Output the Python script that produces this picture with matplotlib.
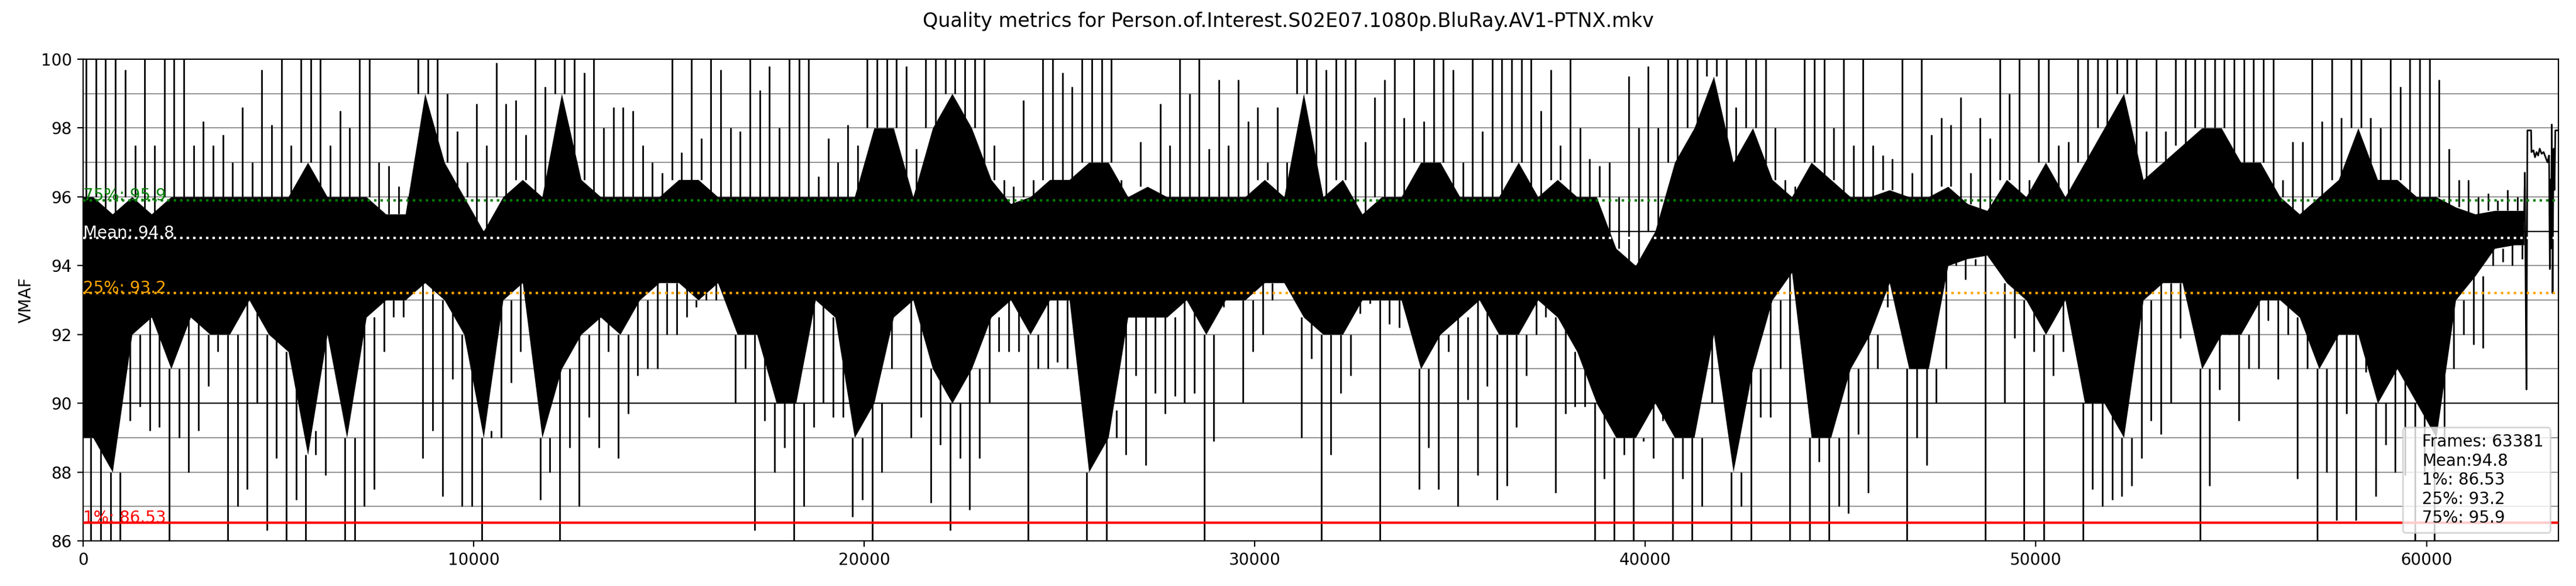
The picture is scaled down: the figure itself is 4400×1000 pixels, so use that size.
import numpy as np
import matplotlib
matplotlib.use("Agg")
import matplotlib.pyplot as plt
from matplotlib.ticker import MultipleLocator

# ---------------- data ----------------
TITLE = "Quality metrics for Person.of.Interest.S02E07.1080p.BluRay.AV1-PTNX.mkv"
n_frames = 63381
bin_frames = 500  # each entry below summarises 500 consecutive frames

# dense core of the VMAF trace in each 500-frame bin
band_lo = [89, 88, 92, 92.5, 91, 92.5, 92, 92, 93, 92, 91.5, 88.5, 92, 89, 92.5, 93, 93, 93.5, 93, 92,
           89, 93, 93.5, 89, 91, 92, 92.5, 92, 93, 93.5, 93.5, 93, 93.5, 92, 92, 90, 90, 93, 92.5, 89,
           90, 92.5, 93, 91, 90, 91, 92.5, 93, 92, 93, 93, 88, 89, 92.5, 92.5, 92.5, 93, 92, 93, 93,
           93.5, 93.5, 92.5, 92, 92, 93, 93, 93, 91, 92, 92.5, 93, 92, 92, 93, 92.5, 91.5, 90, 89, 89,
           90, 89, 89, 92, 88, 91, 93, 93.8, 89, 89, 91, 92, 93.5, 91, 91, 94, 94.2, 94.3, 93.5, 93,
           92, 93, 90, 90, 89, 93, 93.5, 93.5, 91, 92, 92, 93, 93, 92.5, 91, 92, 92, 90, 91, 90,
           89, 93, 93.7, 94.5, 94.6]
band_hi = [96, 95.5, 96, 95.5, 96, 96, 96, 96, 96, 96, 96, 97, 96, 96, 96, 95.5, 95.5, 99, 97, 96,
           95, 96, 96.5, 96, 99, 96.5, 96, 96, 96, 96, 96.5, 96.5, 96, 96, 96, 96, 96, 96, 96, 96,
           98, 98, 96, 98, 99, 98, 96.5, 95.8, 96, 96.5, 96.5, 97, 97, 96, 96.3, 96, 96, 96, 96, 96,
           96.5, 96, 99, 96, 96.5, 95.5, 96, 96, 97, 97, 96, 96, 96, 97, 96, 96.5, 96, 96, 94.5, 94,
           95, 97, 98, 99.5, 97, 98, 96.5, 96, 97, 96.5, 96, 96, 96.2, 96, 96, 96.3, 95.8, 95.6, 96.5, 96,
           97, 96, 97, 98, 99, 96.5, 97, 97.5, 98, 98, 97, 97, 96, 95.5, 96, 96.5, 98, 96.5, 96.5, 96,
           96, 95.7, 95.5, 95.6, 95.6]
# largest spikes in each bin (values below 86 run off the bottom of the axes)
peak_lo = [85, 85, 89.5, 89.2, 85, 88, 90.5, 85, 87.5, 86.3, 85, 85, 87.9, 85, 87, 91.5, 92.5, 88.4, 87.3, 87,
           85, 89, 91.5, 87.2, 85, 87, 88.7, 88.4, 90.8, 91, 92, 92.8, 93, 90, 86.3, 88, 85, 89.3, 89.6, 86.7,
           85, 91, 89, 87.1, 86.3, 86.9, 90, 91.5, 85.5, 91, 91, 85, 86, 88.5, 88.2, 89.7, 90, 85.5, 92.8, 90,
           92, 93.5, 89, 85, 90.3, 92.6, 85, 92.2, 87.5, 87.5, 87, 87.9, 87.2, 89.3, 92, 87.4, 89.9, 85, 85, 85,
           88.4, 85, 85, 90, 85, 85, 89.6, 85, 85, 85.5, 86.8, 87.4, 92.8, 85, 88.2, 91, 93.6, 85, 90, 85,
           85, 91.5, 85, 87, 87.3, 88.4, 89.1, 91.9, 85, 90.4, 89.5, 91, 90.7, 87.8, 85, 86.6, 86.6, 87.3, 88, 85,
           85, 91, 91.7, 94, 94]
peak_hi = [100, 100, 99.7, 100, 100, 100, 98.2, 97.8, 98.6, 99.7, 100, 100, 100, 98.5, 100, 97, 96.3, 100, 100, 97.9,
           98.7, 99.9, 98.8, 100, 100, 100, 100, 98.6, 98.5, 97, 100, 100, 100, 98, 100, 99.8, 100, 100, 97.7, 98.1,
           100, 100, 99.8, 100, 100, 100, 100, 96.5, 98.8, 100, 99.6, 100, 100, 96.5, 97.6, 98.7, 100, 100, 99.4, 99.4,
           98.6, 98.6, 100, 100, 100, 100, 98.9, 100, 100, 100, 99.7, 100, 100, 100, 100, 99.7, 100, 97.1, 97, 99.5,
           99.8, 100, 100, 100, 100, 100, 100, 96.5, 100, 100, 100, 100, 97.2, 100, 100, 98.3, 98.9, 98.3, 100, 100,
           100, 97.5, 100, 100, 100, 100, 100, 100, 100, 100, 100, 100, 100, 97.6, 100, 100, 100, 98.3, 100, 100,
           100, 97.4, 96.5, 96.1, 96.2]
# second-largest spikes in each bin
sec_hi = [100, 100, 97.5, 97.5, 100, 97.5, 97.5, 97, 97, 98.1, 97.5, 100, 97.5, 98, 100, 96.9, 96, 100, 99, 97,
          97.5, 98.7, 97.8, 99.2, 100, 99.6, 98, 98.6, 97.5, 96.7, 97.3, 97.7, 99.7, 97.9, 99.1, 98, 100, 96.6, 97, 97.5,
          100, 100, 97.4, 100, 100, 100, 97.5, 96.3, 96.5, 100, 99.2, 100, 100, 96, 96.3, 97.5, 99, 97.4, 97.5, 98.2,
          97, 97, 100, 99.7, 100, 97.6, 99.4, 98.3, 98.2, 100, 97, 97.9, 100, 100, 98.5, 97.5, 98, 96.9, 96, 98,
          98, 100, 100, 100, 98.6, 100, 98, 96.3, 100, 98, 97.5, 97.5, 97.1, 96.7, 97.8, 98.1, 96.7, 97.7, 99, 96.5,
          100, 97.6, 100, 100, 100, 97.9, 97.9, 100, 100, 100, 100, 100, 96.5, 97.6, 98.2, 98.3, 100, 98, 99.2, 100,
          99.4, 96.5, 96, 95.9, 96]
sec_lo = [86, 86, 89.9, 89.3, 89, 89.2, 91.5, 87, 90, 88.4, 87.2, 89.2, 91.3, 86, 87.5, 92.5, 93, 89.2, 90.7, 87,
          89.2, 90.6, 92.5, 88, 88.7, 89.6, 91.5, 89.7, 91, 92, 92.5, 93.2, 93.5, 91, 89.5, 88.7, 87, 90, 89.6, 87.2,
          88, 92.5, 89.6, 88.8, 88.4, 88.4, 91.5, 91.5, 91, 91.2, 91.2, 88, 89.8, 90.8, 90.3, 90.2, 90.3, 88.9, 93.2, 91.5,
          93, 94, 91.3, 88.5, 90.8, 92.9, 92.3, 92.5, 88.7, 91.5, 90.1, 90.5, 87.6, 90.8, 92.5, 89.7, 89.9, 87.8, 88.5, 88.9,
          89.5, 87.8, 87, 91.2, 87, 89.6, 91, 93.9, 88.3, 87, 89.1, 91, 93.4, 89, 90, 94.2, 94, 94.4, 91.9, 91.5,
          90.8, 92.3, 87.5, 87.2, 87.6, 89.5, 90, 92.6, 87.6, 92.2, 91, 92.4, 92, 91, 88, 89.7, 90.9, 88.8, 87.9, 87.9,
          90.8, 92, 91.6, 94.1, 94.2]

# last stretch of the trace, read point by point
tail_frame = [62500, 62520, 62540, 62560, 62575, 62585, 62680, 62690, 62740, 62780, 62820, 62860, 62900, 62950,
              63000, 63050, 63100, 63140, 63160, 63175, 63190, 63210, 63230, 63245, 63260, 63280, 63300, 63315, 63381]
tail_vmaf = [95.3, 96.7, 93.5, 90.4, 95.0, 97.93, 97.93, 97.3, 97.35, 97.15, 97.3, 97.2, 97.4, 97.25,
             97.3, 97.15, 97.0, 97.2, 93.9, 96.5, 94.5, 98.1, 93.2, 96.0, 97.4, 96.2, 97.93, 97.93, 97.93]

# summary statistics
stat_mean = 94.8
stat_p1 = 86.53
stat_p25 = 93.2
stat_p75 = 95.9

# ---------------- figure ----------------
fig = plt.figure(figsize=(22, 5), dpi=200)
ax = fig.add_subplot(111)
fig.subplots_adjust(left=0.0323, right=0.9932, bottom=0.077, top=0.899)

nb = len(band_lo)
starts = np.arange(nb) * bin_frames
centers = starts + bin_frames / 2
fx = np.concatenate([[0], centers, [nb * bin_frames]])
flo = np.concatenate([[band_lo[0]], band_lo, [band_lo[-1]]])
fhi = np.concatenate([[band_hi[0]], band_hi, [band_hi[-1]]])

# dense core of the trace
ax.fill_between(fx, flo, fhi, color="black", lw=0, zorder=2)

# spikes leaving the core
lw_s = 1.0
ax.vlines(starts + 0.15 * bin_frames, band_hi, peak_hi, color="black", lw=lw_s, zorder=2)
ax.vlines(starts + 0.65 * bin_frames, band_hi, sec_hi, color="black", lw=lw_s, zorder=2)
ax.vlines(starts + 0.40 * bin_frames, peak_lo, band_lo, color="black", lw=lw_s, zorder=2)
ax.vlines(starts + 0.90 * bin_frames, sec_lo, band_lo, color="black", lw=lw_s, zorder=2)
ax.plot(tail_frame, tail_vmaf, color="black", lw=lw_s, zorder=2)

# reference lines
ax.axhline(90, color="black", lw=0.8, zorder=1.6)
ax.axhline(95, color="black", lw=0.8, zorder=1.6)
ax.axhline(stat_p1, color="red", lw=1.5, zorder=3)
ax.axhline(stat_p25, color="orange", lw=1.5, ls=":", zorder=3)
ax.axhline(stat_mean, color="white", lw=1.5, ls=":", zorder=3)
ax.axhline(stat_p75, color="green", lw=1.5, ls=":", zorder=3)

ax.text(0, stat_p1, f"1%: {stat_p1}", color="red", fontsize=10, zorder=4)
ax.text(0, stat_p25, f"25%: {stat_p25}", color="orange", fontsize=10, zorder=4)
ax.text(0, stat_mean, f"Mean: {stat_mean}", color="white", fontsize=10, zorder=4)
ax.text(0, stat_p75, f"75%: {stat_p75}", color="green", fontsize=10, zorder=4)

ax.set_xlim(0, n_frames)
ax.set_ylim(86, 100)
ax.yaxis.set_major_locator(MultipleLocator(2))
ax.yaxis.set_minor_locator(MultipleLocator(1))
ax.xaxis.set_major_locator(MultipleLocator(10000))
ax.tick_params(axis="y", which="minor", length=0)
ax.grid(axis="y", which="both", color="gray", lw=0.6)
ax.set_ylabel("VMAF", fontsize=10)
ax.tick_params(labelsize=10)

label = (f"Frames: {n_frames}\nMean:{stat_mean}\n1%: {stat_p1}\n"
         f"25%: {stat_p25}\n75%: {stat_p75}")
ax.plot([], [], " ", label=label)
ax.legend(loc="lower right", handlelength=0, handletextpad=0.8, fontsize=10)

fig.suptitle(TITLE, fontsize=12)
fig.savefig("out.png", dpi=200)
